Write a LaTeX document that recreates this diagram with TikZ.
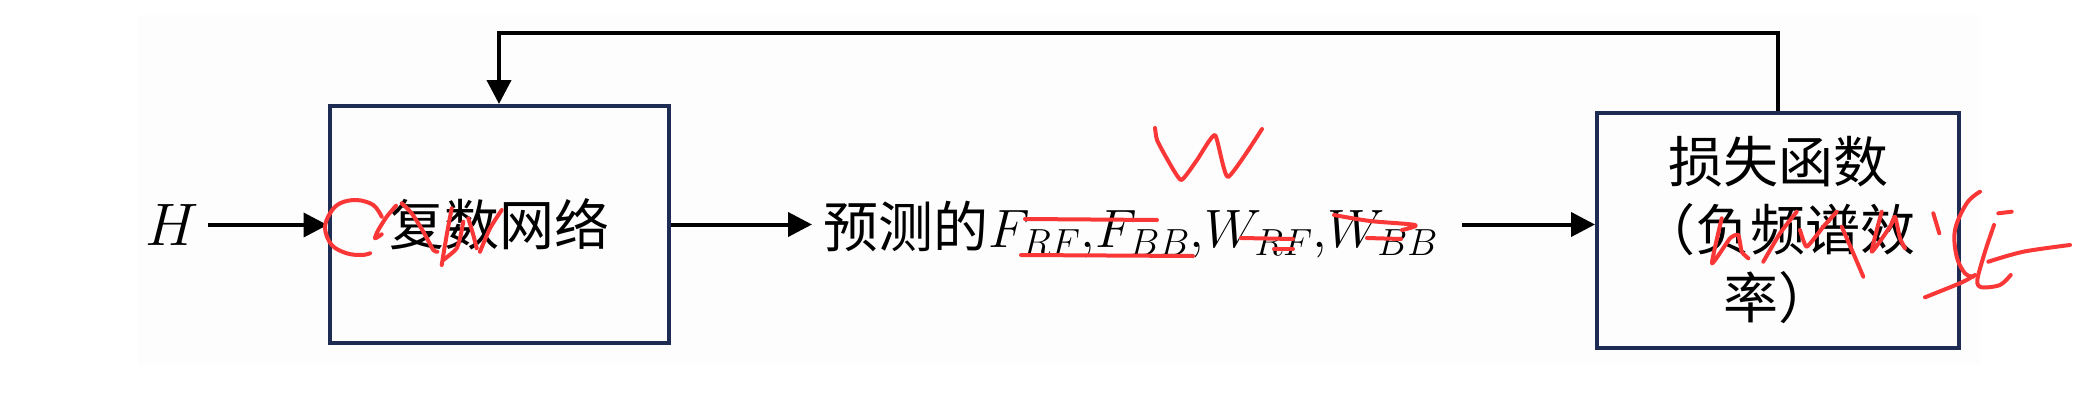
\RequirePackage{fix-cm}
\documentclass[tikz,border=0pt]{standalone}
\usepackage{fontspec}
\newfontfamily\cjk{Noto Sans CJK SC}
\usetikzlibrary{arrows.meta}
\definecolor{boxblue}{RGB}{30,44,84}
\definecolor{pen}{RGB}{250,55,55}
\definecolor{bgc}{RGB}{253,253,253}
\begin{document}
\begin{tikzpicture}[x=1pt,y=-1pt,
  box/.style={draw=boxblue, line width=4pt, inner sep=0pt},
  arr/.style={line width=4pt, -{Triangle[length=24pt,width=24pt]}},
  lbl/.style={font=\cjk\fontsize{55}{68}\selectfont},
  scrib/.style={draw=pen, line width=4pt, line cap=round, line join=round}]
\useasboundingbox (0,0) rectangle (2099,415);
\fill[bgc] (138,15) rectangle (1980,365);
% nodes
\node[font=\fontsize{60}{70}\selectfont, inner sep=9pt] (H) at (172,225) {$H$};
\node[box, lbl, minimum width=339pt, minimum height=237pt] (net) at (499,224.5) {复数网络};
\node[lbl, anchor=base west, inner xsep=11pt, inner ysep=0pt] (pred) at (812,247)
  {预测的{\fontsize{54}{68}\selectfont$F_{RF}{,}F_{BB}{,}W_{RF}{,}W_{BB}$}};
\node[box, lbl, align=center, minimum width=362pt, minimum height=235pt] (loss) at (1778,230.5)
  {损失函数\\（负频谱效\\率）};
\coordinate (top) at (0,33);
% connectors
\draw[arr] (H.east) -- (H.east -| net.west);
\draw[arr] (net.east) -- (net.east -| pred.west);
\draw[arr, shorten <=13pt] (net.east -| pred.east) -- (net.east -| loss.west);
\draw[arr] (loss.north) -- (loss.north |- top) -| (net.north);
% handwritten red marks on the network box
\draw[scrib] plot[smooth, tension=0.6] coordinates {(381.7,216.7) (373.3,205) (356.7,200) (340,203.3) (330,213.3) (325,228.3) (331.7,245) (346.7,253.3) (361.7,255) (370,253.3)};
\draw[scrib] plot[smooth, tension=0.4] coordinates {(396,205.7) (386.7,216.7) (378.3,230) (375,238.3) (381.7,234.3)};
\draw[scrib] plot[smooth, tension=0.4] coordinates {(401.7,203.3) (411.7,213.3) (423.3,231.7) (433.3,250) (437.3,251.7)};
\draw[scrib] plot[smooth, tension=0.4] coordinates {(451.7,208.3) (446.7,235) (441.7,265)};
\draw[scrib] plot[smooth, tension=0.4] coordinates {(443.3,260) (451.7,253.3) (456.7,248.3) (460,238.3) (463.3,221.7)};
\draw[scrib] plot[smooth, tension=0.4] coordinates {(501.7,210) (490,228.3) (480,251.7)};
\draw[scrib] plot[smooth, tension=0.4] coordinates {(468.3,218.3) (473.3,235) (476.7,248.3)};
% marks on the predicted quantities
\draw[scrib] plot[smooth, tension=0.3] coordinates {(1155,128) (1157,140) (1166,157) (1181,180) (1197,160) (1215,135) (1228,177) (1262,129)};
\draw[scrib] (1025,219) -- (1157,220);
\draw[scrib] (1021,255) -- (1193,256);
\draw[scrib] (1241,238) -- (1293,239);
\draw[scrib] (1274,249) -- (1293,249);
\draw[scrib] plot[smooth, tension=0.5] coordinates {(1334,215) (1370,221) (1415,225) (1402,230)};
\draw[scrib] (1367,238) -- (1401,239);
% marks on the loss box
\draw[scrib] plot[smooth, tension=0.3] coordinates {(1721.7,218.3) (1712,263.3) (1730,238.3) (1738.3,235) (1741.7,251.7) (1748.3,258.3)};
\draw[scrib] plot[smooth, tension=0.3] coordinates {(1796.7,211.7) (1780,233.3) (1763.3,261.7)};
\draw[scrib] plot[smooth, tension=0.3] coordinates {(1800,230) (1806.7,246.7) (1823.3,226.7) (1836.7,211.7)};
\draw[scrib] plot[smooth, tension=0.3] coordinates {(1841.7,226.7) (1853.3,253.3) (1863.3,276.7)};
\draw[scrib] plot[smooth, tension=0.3] coordinates {(1881.7,211.7) (1871.7,251.7) (1890,226.7) (1895,216.7) (1900,238.3) (1905,248.3)};
\draw[scrib] (1933.3,213.3) -- (1939.3,233.3);
\draw[scrib] plot[smooth, tension=0.6] coordinates {(1980,191.7) (1966.7,203.3) (1955,230) (1956.7,256.7) (1965,273.3) (1973.3,276.7)};
\draw[scrib] plot[smooth, tension=0.5] coordinates {(1925,297.3) (1943.3,290) (1963.3,281.7) (1975,275)};
\draw[scrib] (1998.3,213.3) -- (2011.7,211.7);
\draw[scrib] plot[smooth, tension=0.5] coordinates {(1994,225) (1985,251.7) (1977.3,280) (1981.7,287.3) (2000,285) (2010.7,275)};
\draw[scrib] plot[smooth, tension=0.5] coordinates {(1988.3,261.7) (2023.3,251.7) (2070,245)};
\end{tikzpicture}
\end{document}
